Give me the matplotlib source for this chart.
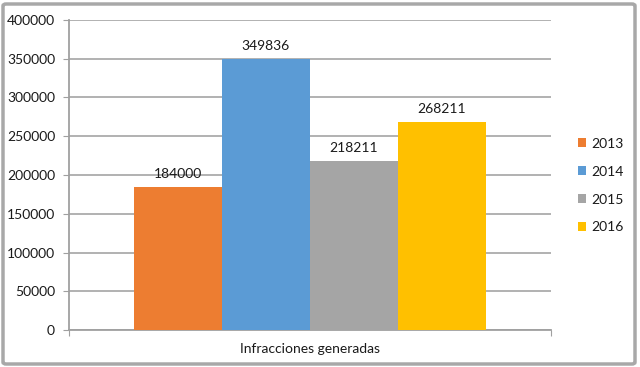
import matplotlib.pyplot as plt
from matplotlib.patches import FancyBboxPatch

# data
years = ['2013', '2014', '2015', '2016']
values = [184000, 349836, 218211, 268211]
colors = ['#ED7D31', '#5B9BD5', '#A5A5A5', '#FFC000']
category = 'Infracciones generadas'
yticks = list(range(0, 400001, 50000))

plt.rcParams['font.family'] = ['Lato', 'DejaVu Sans']

fig = plt.figure(figsize=(6.4, 3.67), dpi=100)
ax = fig.add_axes([69 / 640, 1 - 330 / 367, (551 - 69) / 640, (330 - 20) / 367])

# grouped bars inside a single category
width = 88 / 482
offsets = [(i - (len(years) - 1) / 2) * width for i in range(len(years))]
for yr, val, col, off in zip(years, values, colors, offsets):
    ax.bar(off, val, width=width, color=col, label=yr, zorder=3)
    ax.text(off, val + 9000, f'{val}', ha='center', va='bottom', fontsize=10, color='#1a1a1a')

ax.set_xlim(-0.5, 0.5)
ax.set_ylim(0, 400000)
ax.set_yticks(yticks)
ax.set_yticklabels([str(t) for t in yticks], fontsize=10, color='#1a1a1a')
ax.set_xticks([-0.5, 0.5])
ax.set_xticklabels(['', ''])
ax.text(0.5, -19 / 310, category, transform=ax.transAxes, ha='center', va='center', fontsize=10, color='#1a1a1a')

ax.grid(axis='y', color='#ABABAB', linewidth=1.3, zorder=0)
for s in ['top', 'right']:
    ax.spines[s].set_visible(False)
for s in ['left', 'bottom']:
    ax.spines[s].set_color('#A0A0A0')
    ax.spines[s].set_linewidth(1.3)
ax.tick_params(axis='y', length=4, color='#A0A0A0', pad=6)
ax.tick_params(axis='x', length=4, color='#A0A0A0')

leg = ax.legend(loc='upper left', bbox_to_anchor=(572 / 640, 1 - 132 / 367), bbox_transform=fig.transFigure,
                frameon=False, fontsize=10, handlelength=0.6, handleheight=0.6, handletextpad=0.4,
                labelspacing=1.15, borderaxespad=0)
for t in leg.get_texts():
    t.set_color('#1a1a1a')

# outer frame
frame = FancyBboxPatch((3 / 640, 3 / 367), 632 / 640, 360 / 367, boxstyle='round,pad=0,rounding_size=0.005',
                       transform=fig.transFigure, fill=False, edgecolor='#A8A8A8', linewidth=2.5)
fig.patches.append(frame)

fig.savefig('out.png', dpi=100)
